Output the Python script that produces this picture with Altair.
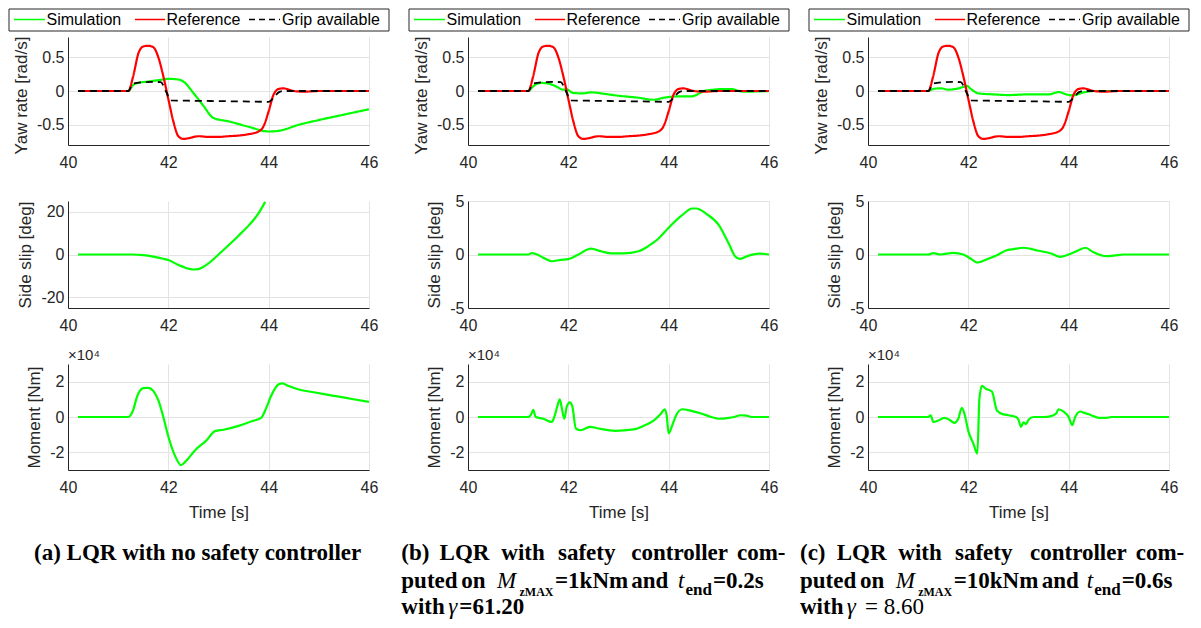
import altair as alt
import pandas as pd

# ---------------- data ----------------
SERIES = ["Simulation", "Reference", "Grip available"]

# yaw-rate reference (same in every panel)
REF_T = [40.2, 41.2, 41.3, 41.4, 41.5, 41.6, 41.7, 41.8, 41.9, 42.0, 42.1, 42.2, 42.3, 42.4,
         42.6, 42.8, 43.0, 43.2, 43.4, 43.6, 43.8, 43.9, 44.0, 44.1, 44.2, 44.3, 44.4, 44.5,
         44.7, 45.0, 46.0]
REF_Y = [0, 0, 0.22, 0.55, 0.66, 0.67, 0.65, 0.5, 0.22, -0.12, -0.45, -0.67, -0.71, -0.70,
         -0.67, -0.68, -0.68, -0.67, -0.66, -0.64, -0.6, -0.52, -0.3, -0.05, 0.03, 0.04, 0.02,
         0.0, -0.01, 0, 0]

# grip available
GRIP_T = [40.2, 41.2, 41.3, 41.5, 41.7, 41.85, 41.95, 42.05, 42.5, 43.0, 43.5, 44.0, 44.1,
          44.2, 44.3, 46.0]
GRIP_Y = [0, 0, 0.11, 0.13, 0.135, 0.13, 0.0, -0.14, -0.145, -0.15, -0.155, -0.16, -0.1,
          -0.02, 0, 0]

# yaw-rate simulation
YAW_T_A = [40.2, 41.2, 41.3, 41.4, 41.6, 41.8, 42.0, 42.2, 42.3, 42.5, 42.7, 42.9, 43.2,
           43.6, 44.0, 44.2, 44.6, 45.0, 45.5, 46.0]
YAW_A = [0, 0, 0.09, 0.12, 0.14, 0.16, 0.18, 0.17, 0.14, -0.03, -0.22, -0.40, -0.45, -0.53,
         -0.60, -0.59, -0.50, -0.43, -0.35, -0.27]
YAW_T_B = [40.2, 41.2, 41.3, 41.45, 41.6, 41.75, 41.9, 41.95, 42.1, 42.3, 42.45, 42.55,
           42.7, 43.0, 43.4, 43.7, 43.9, 44.2, 44.45, 44.6, 44.7, 44.9, 45.1, 45.25, 45.4,
           45.5, 46.0]
YAW_B = [0, 0, 0.07, 0.12, 0.11, 0.07, 0.02, 0.03, -0.03, -0.035, -0.02, -0.025, -0.04,
         -0.07, -0.1, -0.13, -0.1, -0.08, -0.08, -0.04, 0.0, 0.02, 0.03, 0.03, 0.0, -0.01, 0]
YAW_T_C = [40.2, 41.2, 41.3, 41.45, 41.6, 41.75, 41.9, 41.97, 42.05, 42.2, 42.5, 42.8,
           43.2, 43.6, 43.72, 43.8, 43.95, 44.08, 44.3, 44.5, 46.0]
YAW_C = [0, 0, 0.03, 0.04, 0.02, 0.03, 0.06, 0.075, 0.03, -0.035, -0.05, -0.06, -0.05,
         -0.05, -0.03, -0.015, -0.05, -0.065, -0.02, 0.0, 0]

# side slip [deg]
SLIP_T_A = [40.2, 41.3, 41.5, 41.7, 41.9, 42.0, 42.2, 42.35, 42.5, 42.6, 42.75, 42.9, 43.0,
            43.2, 43.4, 43.6, 43.8, 43.93]
SLIP_A = [0, 0, -0.3, -1.0, -2.0, -2.6, -4.9, -6.3, -7.0, -6.8, -5.0, -2.2, 0, 4.3, 8.8,
          13.5, 19.3, 24.6]
SLIP_T_B = [40.2, 41.2, 41.27, 41.35, 41.5, 41.67, 41.85, 42.0, 42.2, 42.45, 42.65, 42.9,
            43.1, 43.4, 43.6, 43.8, 44.0, 44.25, 44.47, 44.55, 44.75, 45.0, 45.2, 45.33,
            45.42, 45.6, 45.8, 46.0]
SLIP_B = [0, 0, 0.12, 0.05, -0.3, -0.63, -0.5, -0.44, 0.0, 0.55, 0.3, 0.1, 0.1, 0.3, 0.8,
          1.5, 2.5, 3.6, 4.3, 4.3, 3.8, 2.75, 1.0, -0.2, -0.4, -0.1, 0.08, 0]
SLIP_T_C = [40.2, 41.2, 41.3, 41.45, 41.7, 41.9, 42.05, 42.18, 42.4, 42.6, 42.75, 42.9,
            43.1, 43.4, 43.65, 43.83, 44.05, 44.2, 44.33, 44.5, 44.75, 44.9, 45.1, 46.0]
SLIP_C = [0, 0, 0.12, 0.0, 0.15, 0.0, -0.4, -0.75, -0.4, 0.0, 0.38, 0.5, 0.63, 0.35, 0.1,
          -0.22, 0.1, 0.4, 0.63, 0.2, -0.16, -0.1, 0.0, 0]

# moment [x1e4 Nm]
MOM_T_A = [40.2, 41.2, 41.3, 41.37, 41.5, 41.6, 41.7, 41.8, 41.9, 42.0, 42.15, 42.25, 42.35,
           42.53, 42.75, 42.93, 43.1, 43.4, 43.65, 43.85, 43.95, 44.05, 44.2, 44.27, 44.4,
           44.6, 44.9, 45.3, 45.6, 46.0]
MOM_A = [0, 0, 0.4, 1.1, 1.63, 1.65, 1.48, 0.95, 0.0, -1.1, -2.3, -2.72, -2.5, -1.89, -1.35,
         -0.8, -0.72, -0.5, -0.25, -0.05, 0.5, 1.2, 1.85, 1.9, 1.75, 1.56, 1.4, 1.2, 1.05,
         0.85]
MOM_T_B = [40.2, 41.2, 41.25, 41.3, 41.35, 41.5, 41.67, 41.72, 41.78, 41.83, 41.87, 41.92,
           41.97, 42.03, 42.08, 42.15, 42.25, 42.43, 42.6, 42.93, 43.3, 43.5, 43.7, 43.85,
           43.92, 43.96, 44.0, 44.08, 44.15, 44.27, 44.45, 44.65, 44.85, 45.0, 45.2, 45.3,
           45.43, 45.55, 45.65, 46.0]
MOM_B = [0, 0, 0.1, 0.4, 0.0, -0.1, -0.28, 0.0, 0.6, 1.0, 0.5, -0.1, 0.6, 0.83, 0.6, -0.65,
         -0.75, -0.56, -0.65, -0.78, -0.7, -0.5, -0.2, 0.2, 0.44, 0.1, -0.93, -0.4, 0.1,
         0.44, 0.35, 0.2, 0.0, -0.1, -0.05, 0.0, 0.1, 0.08, 0.0, 0]
MOM_T_C = [40.2, 41.2, 41.25, 41.3, 41.4, 41.52, 41.62, 41.72, 41.8, 41.87, 41.93, 42.0,
           42.1, 42.18, 42.22, 42.27, 42.35, 42.47, 42.57, 42.7, 42.8, 42.95, 43.0, 43.05,
           43.1, 43.15, 43.2, 43.3, 43.5, 43.65, 43.75, 43.8, 43.9, 44.0, 44.07, 44.13,
           44.23, 44.3, 44.45, 44.6, 44.75, 44.85, 46.0]
MOM_C = [0, 0, 0.1, -0.28, -0.2, -0.05, -0.15, -0.33, -0.1, 0.52, 0.1, -0.8, -1.5, -2.07,
         1.0, 1.76, 1.6, 1.44, 0.37, 0.15, 0.1, 0.0, -0.15, -0.56, -0.3, -0.4, -0.15, 0.0,
         0.0, 0.05, 0.2, 0.44, 0.3, 0.0, -0.46, 0.0, 0.31, 0.25, 0.1, -0.05, -0.05, 0.0, 0]

X_TICKS = [40, 42, 44, 46]
YAW_TICKS = [-0.5, 0, 0.5]
SLIP_TICKS_A = [-20, 0, 20]
SLIP_TICKS_BC = [-5, 0, 5]
MOM_TICKS = [-2, 0, 2]

Y_TITLES = ["Yaw rate [rad/s]", "Side slip [deg]", "Moment [Nm]"]
X_TITLE = "Time [s]"
EXP_LABEL = "×10⁴"

# captions: words per line and their styles
CAP_A = [[("(a) LQR with no safety controller", "b")]]
CAP_B = [
    [("(b)", "b"), ("LQR", "b"), ("with", "b"), ("safety", "b"), ("controller", "b"), ("com-", "b")],
    [("puted", "b"), ("on", "b"), ("M", "i"), ("zMAX", "sb"), ("=1kNm", "b"),
     ("and", "b"), ("t", "i"), ("end", "eb"), ("=0.2s", "b")],
    [("with", "b"), ("γ", "i"), ("=61.20", "b")],
]
CAP_C = [
    [("(c)", "b"), ("LQR", "b"), ("with", "b"), ("safety", "b"), ("controller", "b"), ("com-", "b")],
    [("puted", "b"), ("on", "b"), ("M", "i"), ("zMAX", "sb"), ("=10kNm", "b"),
     ("and", "b"), ("t", "i"), ("end", "eb"), ("=0.6s", "b")],
    [("with", "b"), ("γ", "i"), ("= 8.60", "r")],
]

# ---------------- layout / style ----------------
W = 301
HEIGHTS = [108, 107, 106]
COLORS = ["#00ff00", "#ff0000", "#000000"]
DASHES = [[1, 0], [1, 0], [7, 5]]
LEG_DASHES = [[1, 0], [1, 0], [6, 4]]
WIDTHS = [2.2, 2.2, 1.8]
INK = "#262626"
LBL = "(datum.value < 0 ? '-' : '') + format(abs(datum.value), '')"

# legend layout (px relative to the top-left of the yaw-rate plot area)
LEG_BOX = (-59, 321, -28, -6)
LEG_LINE_X = [(-54, -23), (67, 97), (181, 212)]
LEG_TEXT_X = [-21.5, 98.5, 214]
LEG_Y = -17.5

# caption word x-offsets (px from the panel's left edge) and line baselines (px from plot top)
CAP_X_A = [[-34]]
CAP_X_B = [[-66.7, -28.4, 33.3, 90, 163.3, 269],
           [-66.7, -6.7, 29, 51.5, 87, 163.3, 210, 217.5, 245],
           [-66.7, -19.7, -8.7]]
CAP_X_C = [[-68, -31.3, 30.3, 87, 162, 267.7],
           [-68, -8, 27.7, 50.2, 85.7, 173.7, 218.7, 226.2, 253.7],
           [-68, -21.3, -3]]
CAP_Y = [196, 224, 249.5]
STYLES = {
    "b": dict(fontSize=23, fontWeight="bold", fontStyle="normal", dy=0),
    "i": dict(fontSize=23, fontWeight="normal", fontStyle="italic", dy=0),
    "r": dict(fontSize=23, fontWeight="normal", fontStyle="normal", dy=0),
    "sb": dict(fontSize=12, fontWeight="bold", fontStyle="normal", dy=8),
    "eb": dict(fontSize=17, fontWeight="bold", fontStyle="normal", dy=7),
}


def one(text):
    return pd.DataFrame({"txt": [text]})


def x_enc(title=None):
    return alt.X("t:Q", scale=alt.Scale(domain=[40, 46], nice=False, zero=False),
                 axis=alt.Axis(values=X_TICKS, labelExpr=LBL, title=title))


def y_enc(domain, ticks, title, **extra):
    return alt.Y("v:Q", scale=alt.Scale(domain=domain, nice=False, zero=False),
                 axis=alt.Axis(values=ticks, labelExpr=LBL, title=title, **extra))


def legend_layers():
    x0, x1, y0, y1 = LEG_BOX
    out = [alt.Chart(one("")).mark_rect(fill="#ffffff", stroke=INK, strokeWidth=1)
           .encode(x=alt.value(x0), x2=alt.value(x1), y=alt.value(y0), y2=alt.value(y1))]
    for s, c, d, (lx0, lx1), tx in zip(SERIES, COLORS, LEG_DASHES, LEG_LINE_X, LEG_TEXT_X):
        out.append(alt.Chart(one(s)).mark_rule(color=c, strokeWidth=1.5, strokeDash=d)
                   .encode(x=alt.value(lx0), x2=alt.value(lx1), y=alt.value(LEG_Y)))
        out.append(alt.Chart(one(s)).mark_text(align="left", baseline="middle",
                                               font="Liberation Sans", fontSize=16,
                                               color="#000000")
                   .encode(text="txt:N", x=alt.value(tx), y=alt.value(LEG_Y)))
    return out


def yaw_panel(sim_t, sim_y):
    sets = [(sim_t, sim_y), (REF_T, REF_Y), (GRIP_T, GRIP_Y)]
    layers = []
    for (t, y), c, d, w in zip(sets, COLORS, DASHES, WIDTHS):
        layers.append(
            alt.Chart(pd.DataFrame({"t": t, "v": y}))
            .mark_line(color=c, strokeDash=d, strokeWidth=w, interpolate="monotone", clip=True)
            .encode(x=x_enc(),
                    y=y_enc([-0.8, 0.8], YAW_TICKS, Y_TITLES[0], titleX=-38, titleY=58,
                            titleAngle=270, titleAlign="center", titleBaseline="bottom"))
        )
    return alt.layer(*layers, *legend_layers()).properties(width=W, height=HEIGHTS[0])


def slip_panel(t, y, domain, ticks):
    df = pd.DataFrame({"t": t, "v": y})
    return (alt.Chart(df).mark_line(color=COLORS[0], strokeWidth=2.2, interpolate="monotone",
                                    clip=True)
            .encode(x=x_enc(), y=y_enc(domain, ticks, Y_TITLES[1]))
            .properties(width=W, height=HEIGHTS[1]))


def caption_layers(cap, xs):
    out = []
    for li, (line, lx) in enumerate(zip(cap, xs)):
        for (txt, st), px in zip(line, lx):
            s = STYLES[st]
            out.append(
                alt.Chart(one(txt))
                .mark_text(align="left", baseline="alphabetic", font="Liberation Serif",
                           fontSize=s["fontSize"], fontWeight=s["fontWeight"],
                           fontStyle=s["fontStyle"], color="#000000")
                .encode(text="txt:N", x=alt.value(px), y=alt.value(CAP_Y[li] + s["dy"]))
            )
    return out


def moment_panel(t, y, cap, xs):
    df = pd.DataFrame({"t": t, "v": y})
    line = (alt.Chart(df).mark_line(color=COLORS[0], strokeWidth=2.2, interpolate="monotone",
                                    clip=True)
            .encode(x=x_enc(X_TITLE), y=y_enc([-3, 3], MOM_TICKS, Y_TITLES[2])))
    return alt.layer(line, *caption_layers(cap, xs)).properties(
        width=W, height=HEIGHTS[2],
        title=alt.TitleParams(EXP_LABEL, anchor="start", frame="group", font="Liberation Sans",
                              fontSize=15, fontWeight="normal", color=INK, offset=1))


cells = [
    yaw_panel(YAW_T_A, YAW_A), yaw_panel(YAW_T_B, YAW_B), yaw_panel(YAW_T_C, YAW_C),
    slip_panel(SLIP_T_A, SLIP_A, [-25, 25], SLIP_TICKS_A),
    slip_panel(SLIP_T_B, SLIP_B, [-5, 5], SLIP_TICKS_BC),
    slip_panel(SLIP_T_C, SLIP_C, [-5, 5], SLIP_TICKS_BC),
    moment_panel(MOM_T_A, MOM_A, CAP_A, CAP_X_A),
    moment_panel(MOM_T_B, MOM_B, CAP_B, CAP_X_B),
    moment_panel(MOM_T_C, MOM_C, CAP_C, CAP_X_C),
]

chart = (
    alt.concat(*cells, columns=3, spacing={"row": 56, "column": 99}, bounds="flush")
    .properties(padding=0, background="#ffffff")
    .configure_view(stroke=None)
    .configure_axis(domainColor=INK, domainWidth=1, gridColor="#e3e3e3", gridWidth=1,
                    ticks=False, labelFont="Liberation Sans", labelFontSize=16,
                    labelColor=INK, titleFont="Liberation Sans", titleFontSize=17,
                    titleFontWeight="normal", titleColor=INK, labelFlush=False)
    .configure_axisX(labelPadding=9, titlePadding=9)
    .configure_axisY(labelPadding=4, titlePadding=6)
)

chart.save("out.html", embed_options={"renderer": "svg", "actions": False})
